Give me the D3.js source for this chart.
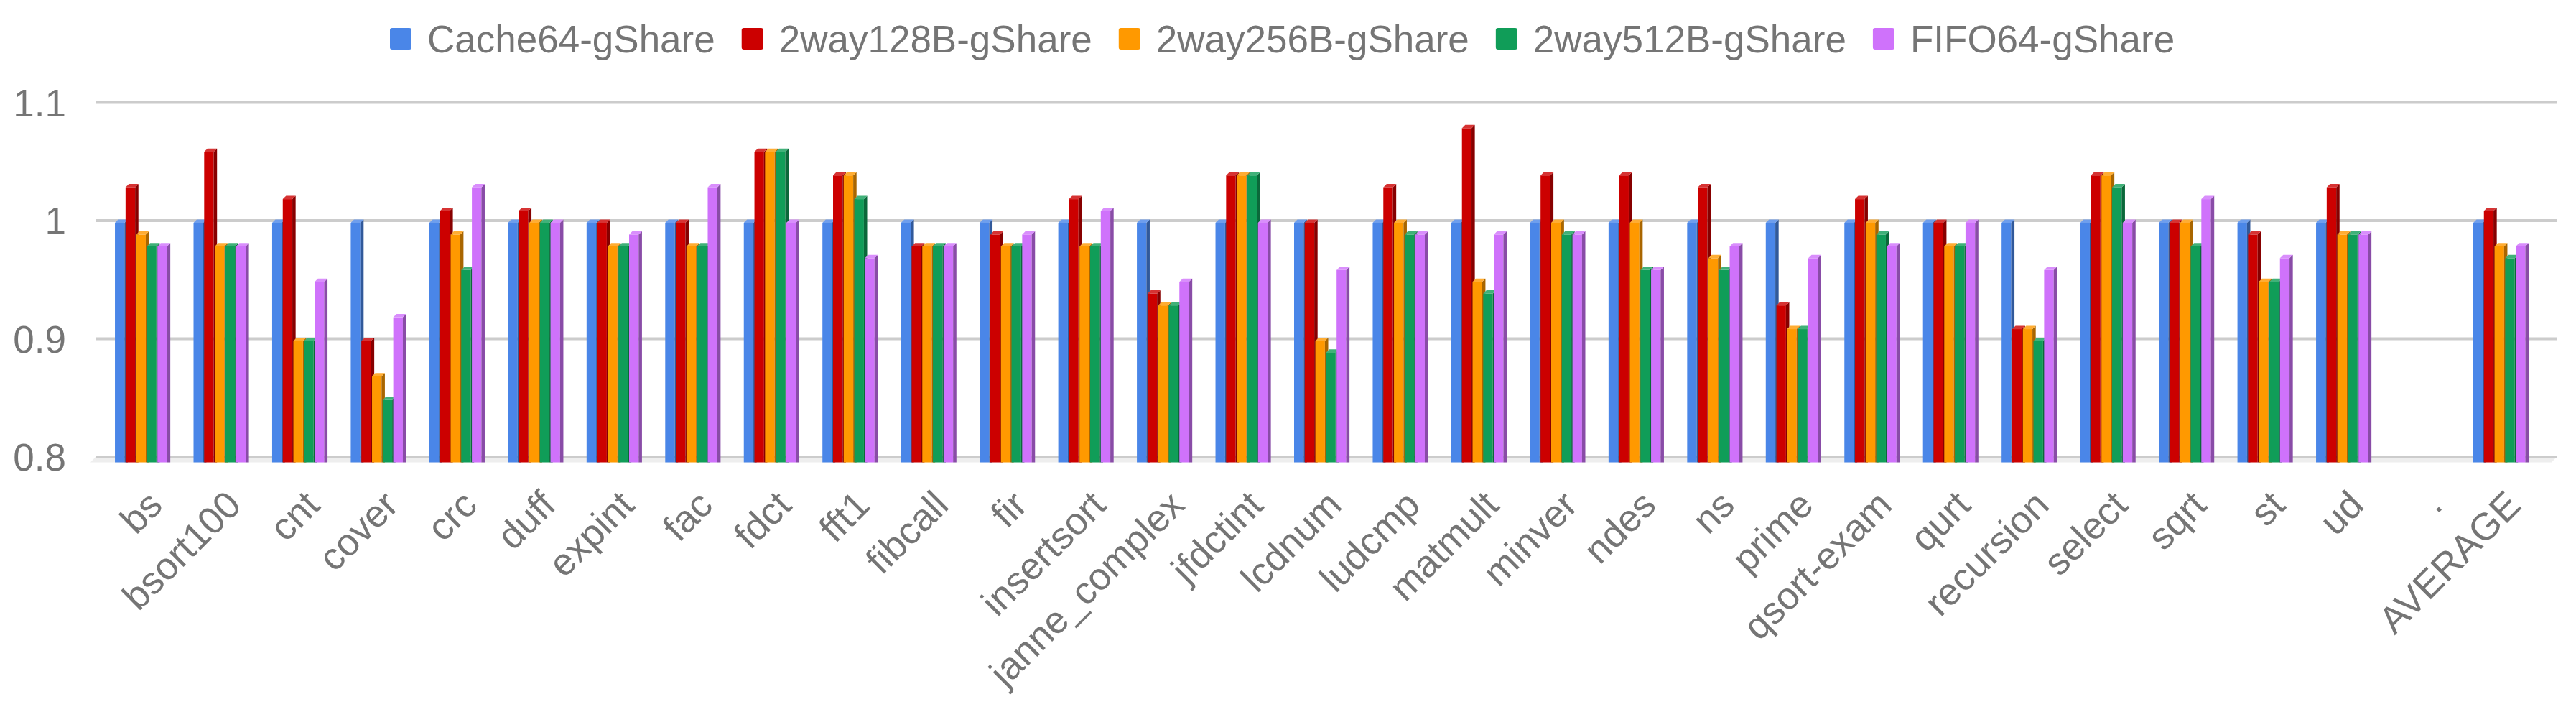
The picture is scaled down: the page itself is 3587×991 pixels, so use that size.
<!DOCTYPE html>
<html>
<head>
<meta charset="utf-8">
<script src="https://cdnjs.cloudflare.com/ajax/libs/d3/7.8.5/d3.min.js"></script>
<style>
body { margin: 0; background: #fff; }
text { font-family: Arial, "Liberation Sans", sans-serif; fill: #757575; }
</style>
</head>
<body>
<script>
// benchmarks on the x axis ("." is an empty spacer column)
var categories = ["bs", "bsort100", "cnt", "cover", "crc", "duff", "expint", "fac", "fdct", "fft1",
    "fibcall", "fir", "insertsort", "janne_complex", "jfdctint", "lcdnum", "ludcmp", "matmult", "minver", "ndes",
    "ns", "prime", "qsort-exam", "qurt", "recursion", "select", "sqrt", "st", "ud", ".", "AVERAGE"];

var seriesNames = ["Cache64-gShare", "2way128B-gShare", "2way256B-gShare", "2way512B-gShare", "FIFO64-gShare"];
var seriesColors = ["#4a86e8", "#cc0000", "#ff9900", "#109d58", "#cf72fb"];

var cache64 = [1, 1, 1, 1, 1, 1, 1, 1, 1, 1,
    1, 1, 1, 1, 1, 1, 1, 1, 1, 1,
    1, 1, 1, 1, 1, 1, 1, 1, 1, null, 1];
var way128 = [1.03, 1.06, 1.02, 0.90, 1.01, 1.01, 1.00, 1.00, 1.06, 1.04,
    0.98, 0.99, 1.02, 0.94, 1.04, 1.00, 1.03, 1.08, 1.04, 1.04,
    1.03, 0.93, 1.02, 1.00, 0.91, 1.04, 1.00, 0.99, 1.03, null, 1.01];
var way256 = [0.99, 0.98, 0.90, 0.87, 0.99, 1.00, 0.98, 0.98, 1.06, 1.04,
    0.98, 0.98, 0.98, 0.93, 1.04, 0.90, 1.00, 0.95, 1.00, 1.00,
    0.97, 0.91, 1.00, 0.98, 0.91, 1.04, 1.00, 0.95, 0.99, null, 0.98];
var way512 = [0.98, 0.98, 0.90, 0.85, 0.96, 1.00, 0.98, 0.98, 1.06, 1.02,
    0.98, 0.98, 0.98, 0.93, 1.04, 0.89, 0.99, 0.94, 0.99, 0.96,
    0.96, 0.91, 0.99, 0.98, 0.90, 1.03, 0.98, 0.95, 0.99, null, 0.97];
var fifo64 = [0.98, 0.98, 0.95, 0.92, 1.03, 1.00, 0.99, 1.03, 1.00, 0.97,
    0.98, 0.99, 1.01, 0.95, 1.00, 0.96, 0.99, 0.99, 0.99, 0.96,
    0.98, 0.97, 0.98, 1.00, 0.96, 1.00, 1.02, 0.97, 0.99, null, 0.98];

var yTicks = [0.8, 0.9, 1.0, 1.1];

var seriesValues = [cache64, way128, way256, way512, fifo64];

var width = 3587,
    height = 991;

var svg = d3.select("body")
    .append("svg")
    .attr("width", width)
    .attr("height", height);

//plot frame (back wall from left to right, floor in front)
var left = 133, right = 3560, floorY = 643.5, depth = 4.6;

var y = d3.scaleLinear()
    .domain([0.8, 1.1])
    .range([635.5, 142]);

var x = d3.scaleBand()
    .domain(categories)
    .range([142.3, 3535.7]);

var xs = d3.scaleBand()
    .domain(seriesNames)
    .range([-37, 37]);

//floor
svg.append("polygon")
    .attr("points", [[left, 636], [right, 636], [right - 7, floorY], [left - 7, floorY]].join(" "))
    .attr("fill", "#eeeeee");

//gridlines + y labels
var yAxis = svg.append("g")
    .attr("transform", "translate(" + left + ",0)")
    .call(d3.axisLeft(y)
        .tickValues(yTicks)
        .tickSize(-(right - left))
        .tickPadding(41)
        .tickFormat(function(d){ return String(+d.toFixed(1)); }));
yAxis.select(".domain").remove();
yAxis.selectAll(".tick line")
    .attr("stroke", "#cccccc")
    .attr("stroke-width", 4);
yAxis.selectAll(".tick text")
    .attr("dy", "0.36em")
    .style("font-size", "53px")
    .style("font-family", "Arial, 'Liberation Sans', sans-serif")
    .attr("fill", "#757575");

//bars
function shade(c, k){ return d3.color(c).darker(k).formatHex(); }
function tint(c){ return d3.interpolateRgb(c, "#ffffff")(0.2); }

var groups = svg.selectAll(".cat")
    .data(categories)
    .enter()
    .append("g")
    .attr("class", "cat")
    .attr("transform", function(d){ return "translate(" + (x(d) + x.bandwidth() / 2) + ",0)"; });

var bars = groups.selectAll(".bar")
    .data(function(c, i){
        return seriesNames.map(function(s, j){
            return { name: s, value: seriesValues[j][i], color: seriesColors[j] };
        }).filter(function(d){ return d.value != null; });
    })
    .enter()
    .append("g")
    .attr("class", "bar");

var bw = xs.bandwidth() - 1.5;

bars.append("rect")
    .attr("x", function(d){ return xs(d.name); })
    .attr("y", function(d){ return y(d.value) + 3.5; })
    .attr("width", bw)
    .attr("height", function(d){ return floorY - y(d.value) - 3.5; })
    .attr("fill", function(d){ return d.color; });

bars.append("polygon")
    .attr("points", function(d){
        var x0 = xs(d.name) + bw, t = y(d.value) + 3.5;
        return [[x0, t], [x0 + depth, t - depth], [x0 + depth, floorY], [x0, floorY]].join(" ");
    })
    .attr("fill", function(d){ return shade(d.color, 1.15); });

bars.append("polygon")
    .attr("points", function(d){
        var x0 = xs(d.name), t = y(d.value) + 3.5;
        return [[x0, t], [x0 + bw, t], [x0 + bw + depth, t - depth], [x0 + depth, t - depth]].join(" ");
    })
    .attr("fill", function(d){ return tint(d.color); });

//x labels
var xAxis = svg.append("g")
    .call(d3.axisBottom(x).tickSize(0));
xAxis.select(".domain").remove();
xAxis.selectAll(".tick text")
    .attr("x", 32)
    .attr("y", 706)
    .attr("dy", 0)
    .attr("text-anchor", "end")
    .attr("transform", "rotate(-45,32,706)")
    .style("font-size", "53px")
    .style("font-family", "Arial, 'Liberation Sans', sans-serif")
    .attr("fill", "#757575");

//legend
var legend = svg.append("g").attr("class", "legend");
var lx = 543;
seriesNames.forEach(function(s, i){
    legend.append("rect")
        .attr("x", lx)
        .attr("y", 39)
        .attr("width", 30)
        .attr("height", 30)
        .attr("rx", 3)
        .attr("fill", seriesColors[i]);
    var t = legend.append("text")
        .attr("x", lx + 52)
        .attr("y", 73)
        .style("font-size", "53px")
        .text(s);
    lx += 52 + t.node().getComputedTextLength() + 37;
});
</script>
</body>
</html>
